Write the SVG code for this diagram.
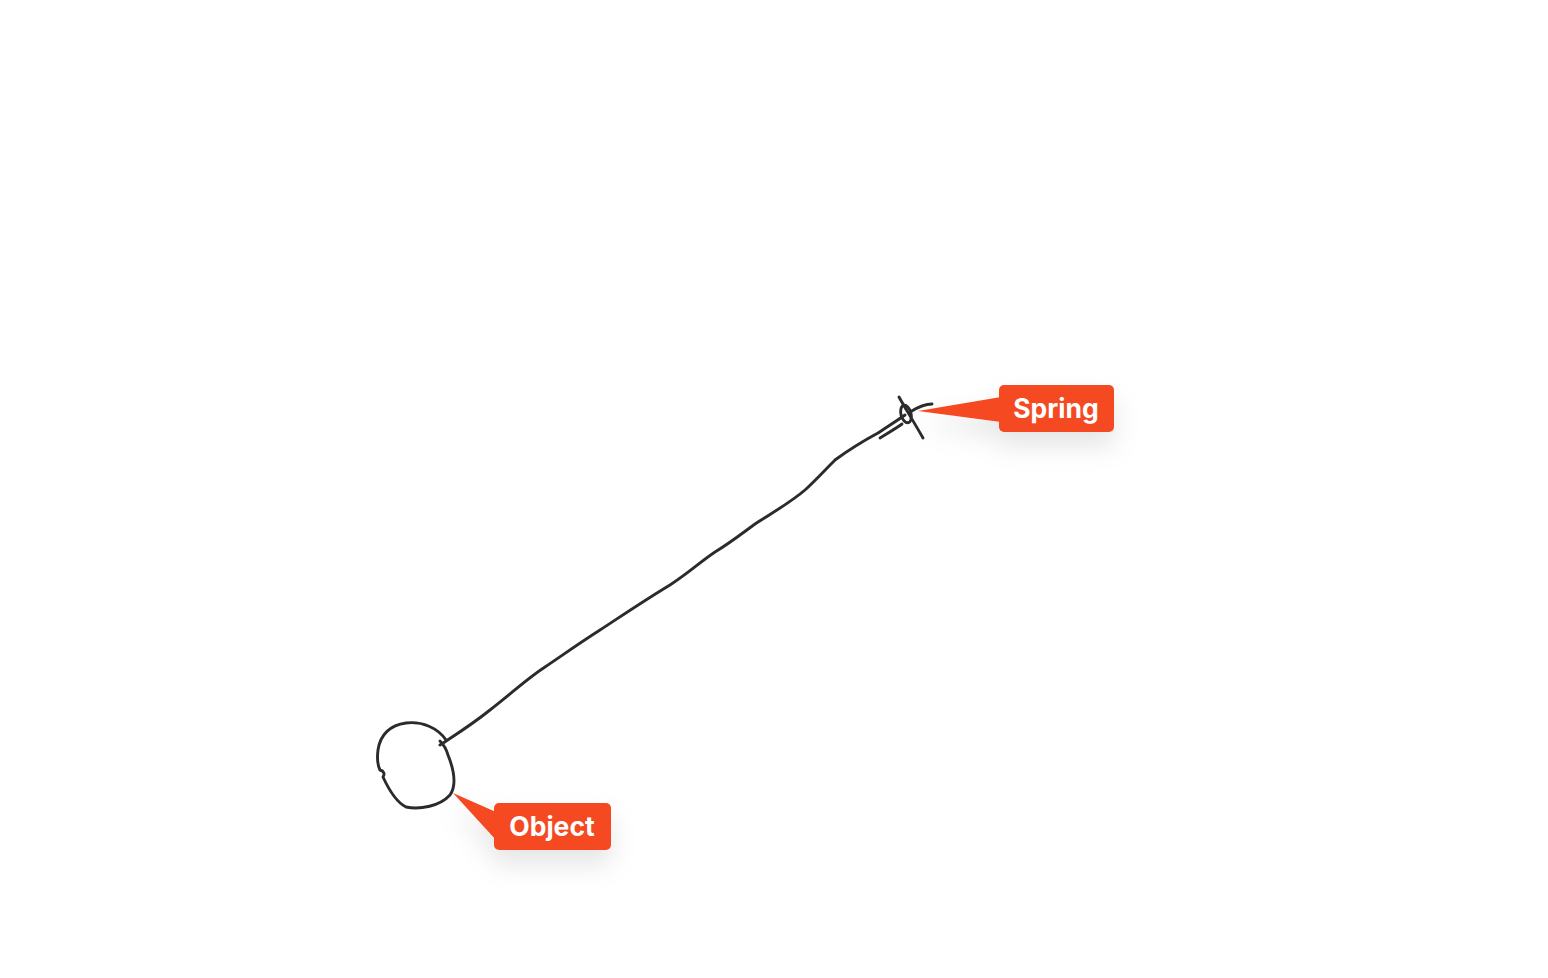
<svg xmlns="http://www.w3.org/2000/svg" width="1548" height="978" viewBox="0 0 1548 978">
<defs>
<style>
.ink{fill:none;stroke:#2b2b2b;stroke-width:2.9;stroke-linecap:round;stroke-linejoin:round}
.tag{fill:#f54a24}
.lbl{font-family:"Inter","Liberation Sans",sans-serif;font-weight:700;font-size:26.5px;fill:#ffffff;text-anchor:middle}
</style>
<filter id="sh" x="-80%" y="-80%" width="260%" height="300%">
<feDropShadow dx="0" dy="14" stdDeviation="13" flood-color="#000" flood-opacity="0.10"/>
</filter>
</defs>
<rect width="1548" height="978" fill="#ffffff"/>
<g id="connectors">
<path class="ink" d="M440,745 C455,735 470,726 490,710 C510,695 525,680 545,667 C560,657 575,646 600,630 C620,617 645,600 670,585 C690,572 700,562 715,552 C730,543 740,535 755,524 C770,514 790,503 805,490 C815,481 825,470 835,460 C850,449 865,440 878,433 C890,425 898,420 905,415"/>
<path class="ink" d="M880,438 C888,433 895,429 902,424"/>
</g>
<g id="object">
<path class="ink" d="M446,740 C438,728 422,721 406,723 C390,725 380,735 378,750 C377,758 378,766 380,770 C384,771 385,774 383,777 C389,790 396,802 406,807 C420,810 440,806 450,795 C457,785 454,770 448,755 C446,748 443,744 440,741"/>
<g filter="url(#sh)">
<path class="tag" d="M453,793 L496,812 L496,840 Z"/>
<rect class="tag" x="494" y="803" width="117" height="47" rx="5"/>
</g>
<text class="lbl" x="552" y="836">Object</text>
</g>
<g id="spring">
<ellipse class="ink" cx="906" cy="414" rx="5" ry="9" transform="rotate(-15 906 414)"/>
<path class="ink" d="M899,397 C905,408 914,422 923,438"/>
<path class="ink" d="M910,412 C918,407 925,404 932,404"/>
<g filter="url(#sh)">
<path class="tag" d="M918,411 L1001,397 L1001,422 Z"/>
<rect class="tag" x="999" y="385" width="115" height="47" rx="5"/>
</g>
<text class="lbl" x="1056" y="418">Spring</text>
</g>
</svg>
